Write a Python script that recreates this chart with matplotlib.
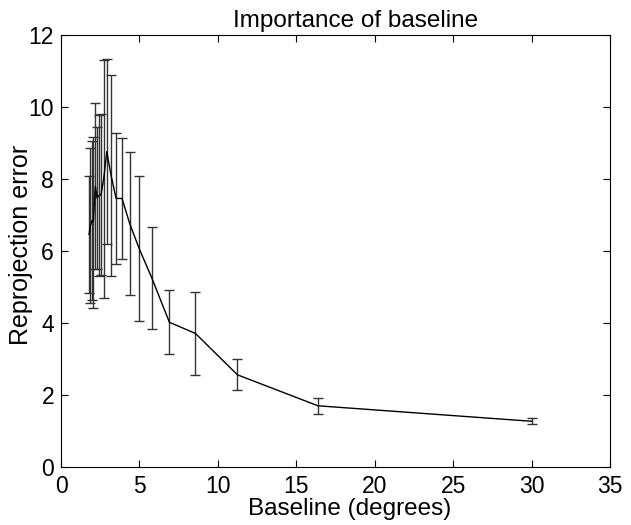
import numpy as np
import matplotlib.pyplot as plt

plt.rcParams['font.family'] = ['Liberation Sans', 'DejaVu Sans']

# baseline angle (degrees), mean reprojection error, error bar half-length
baseline = [1.79, 1.87, 1.98, 2.06, 2.19, 2.30, 2.41, 2.55, 2.72, 2.92, 3.19,
            3.51, 3.89, 4.38, 4.98, 5.79, 6.91, 8.57, 11.25, 16.38, 30.0]
reproj_err = [6.46, 6.70, 6.85, 6.80, 7.80, 7.47, 7.54, 7.56, 8.00, 8.76, 8.10,
              7.46, 7.46, 6.76, 6.07, 5.25, 4.02, 3.71, 2.56, 1.70, 1.27]
err_std = [1.62, 2.15, 2.20, 2.37, 2.30, 1.98, 2.24, 2.24, 3.30, 2.57, 2.79,
           1.81, 1.67, 1.98, 2.02, 1.42, 0.89, 1.16, 0.43, 0.22, 0.08]

fig = plt.figure(figsize=(6.31, 5.25), dpi=100)
ax = fig.add_axes([0.0967, 0.1105, 0.87, 0.8228])

ax.errorbar(baseline, reproj_err, yerr=err_std, color='black', ecolor='#333333',
            linewidth=1.0, elinewidth=1.0, capsize=3.5, capthick=1.0)

ax.set_xlim(0, 35)
ax.set_ylim(0, 12)
ax.set_xticks(np.arange(0, 36, 5))
ax.set_yticks(np.arange(0, 13, 2))
ax.tick_params(direction='in', top=True, right=True, labelsize=16.5, length=5)
ax.tick_params(axis='x', pad=6)
ax.tick_params(axis='y', pad=5)
ax.set_xlabel("Baseline (degrees)", fontsize=17.5, labelpad=0, x=0.525, ha='center')
ax.set_ylabel("Reprojection error", fontsize=18, labelpad=-3, y=0.514, ha='center')
ax.set_title("Importance of baseline", fontsize=17.5, pad=6, x=0.536)

fig.savefig("out.png", dpi=100)
